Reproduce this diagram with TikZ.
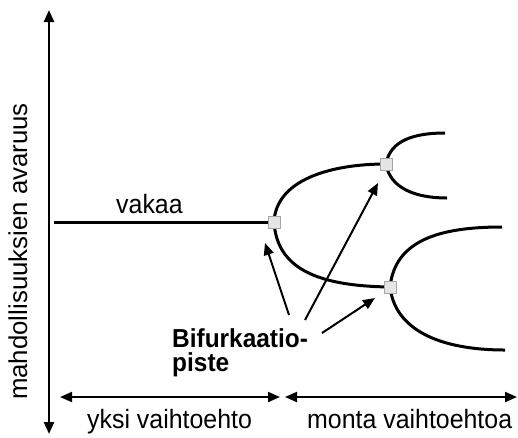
\documentclass[tikz,border=0pt]{standalone}
\usepackage{fontspec}
\setmainfont{Liberation Sans}
\newfontfamily\stretchfont[FakeStretch=0.94]{Liberation Sans}
\usetikzlibrary{arrows.meta}
\begin{document}
\begin{tikzpicture}[x=1pt,y=-1pt,
  lbl/.style={inner sep=0pt,font=\stretchfont\fontsize{26.5}{26.5}\selectfont},
  vlbl/.style={inner sep=0pt,font=\fontsize{25.8}{25.8}\selectfont},
  blbl/.style={inner sep=0pt,align=left,font=\stretchfont\fontsize{26}{24}\selectfont\bfseries},
  curve/.style={line width=3pt},
  axis/.style={line width=2.4pt,{Triangle[length=12pt,width=10pt]}-{Triangle[length=12pt,width=10pt]}},
  ptr/.style={line width=2pt,-{Triangle[length=12pt,width=10pt]}},
  spanarrow/.style={line width=2pt,{Triangle[length=12pt,width=10pt]}-{Triangle[length=12pt,width=10pt]}},
  sq/.style={draw=gray!70,fill=gray!20,line width=0.8pt,minimum size=12pt,inner sep=0pt}]
\useasboundingbox (0,0) rectangle (518,437);
% axis
\coordinate (at) at (49,10);
\coordinate (ab) at (49,434);
\draw[axis] (at) -- (ab);
\node[vlbl,rotate=90,anchor=base] (ylab) at (27,251.5) {mahdollisuuksien avaruus};
% bifurcation points
\coordinate (p1) at (274,222);
\coordinate (p2) at (386,164);
\coordinate (p3) at (390,287);
\coordinate (s0) at (54,222);
\coordinate (e2u) at (445,133);
\coordinate (e2d) at (447,198);
\coordinate (e3u) at (502,227);
\coordinate (e3d) at (505,350);
\draw[curve] (s0) -- (p1);
\draw[curve] (p1) .. controls (276,180) and (330,164) .. (p2);
\draw[curve] (p1) .. controls (277,270) and (320,286) .. (p3);
\draw[curve] (p2) .. controls (390,140) and (415,133) .. (e2u);
\draw[curve] (p2) .. controls (390,188) and (415,198) .. (e2d);
\draw[curve] (p3) .. controls (395,240) and (440,227) .. (e3u);
\draw[curve] (p3) .. controls (395,330) and (440,350) .. (e3d);
\node[sq] (b1) at (p1) {};
\node[sq] (b2) at (p2) {};
\node[sq] (b3) at (p3) {};
\node[lbl,anchor=base west] (vakaa) at (116,213) {vakaa};
% label and pointers
\node[blbl,anchor=base west] (bif) at (172,371) {Bifurkaatio-\\piste};
\coordinate (q1) at (289,315);
\coordinate (q2) at (305,320);
\coordinate (q3) at (322,333);
\coordinate (t1) at (265,243);
\coordinate (t2) at (378,183);
\coordinate (t3) at (375,298);
\draw[ptr] (q1) -- (t1);
\draw[ptr] (q2) -- (t2);
\draw[ptr] (q3) -- (t3);
% bottom ranges
\coordinate (l1) at (60,397);
\coordinate (l2) at (280,397);
\coordinate (r1) at (285,397);
\coordinate (r2) at (517,397);
\draw[spanarrow] (l1) -- (l2);
\draw[spanarrow] (r1) -- (r2);
\node[lbl,anchor=base west] (yksi) at (87,428) {yksi vaihtoehto};
\node[lbl,anchor=base west] (monta) at (307,428) {monta vaihtoehtoa};
\end{tikzpicture}
\end{document}
